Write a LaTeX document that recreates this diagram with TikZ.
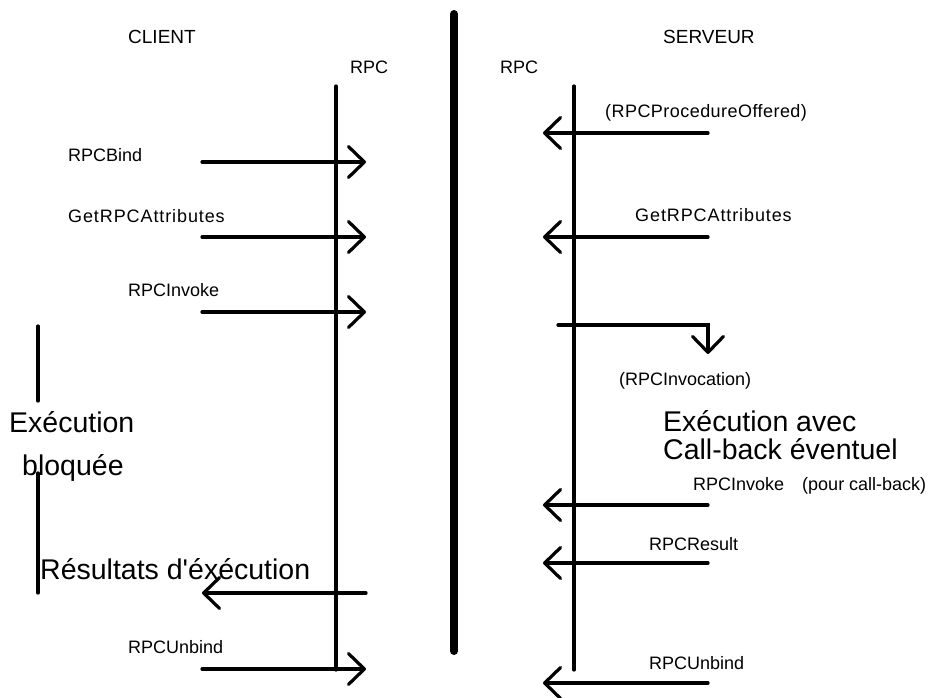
\documentclass[tikz,border=0pt]{standalone}
\usepackage{fontspec}
\setmainfont{Liberation Sans}
\newfontfamily\arialraw{Liberation Sans}
\usetikzlibrary{arrows.meta}
\begin{document}
\begin{tikzpicture}[x=1pt,y=-1pt,
  life/.style={line width=3.2pt, line cap=round},
  wall/.style={line width=8pt, line cap=round},
  msg/.style={line width=3.2pt, line cap=round, -{Straight Barb[length=16pt,width=31pt,round]}},
  lbl/.style={anchor=base west, inner sep=0pt, font=\fontsize{18}{20}\selectfont},
  head/.style={anchor=base west, inner sep=0pt, font=\fontsize{19}{21}\selectfont},
  big/.style={anchor=base west, inner sep=0pt, font=\arialraw\fontsize{28.5}{30}\selectfont}]
\useasboundingbox (0,0) rectangle (929,697);
\fill[white] (0,0) rectangle (929,697);

% headings
\node[head] (client) at (128,43) {CLIENT};
\node[head] (serveur) at (663,43) {SERVEUR};
\node[lbl] (rpcL) at (350,73) {RPC};
\node[lbl] (rpcR) at (500,73) {RPC};

% lifelines
\coordinate (lt) at (336,86);  \coordinate (lb) at (336,670);
\coordinate (rt) at (574,86);  \coordinate (rb) at (574,670);
\coordinate (wt) at (454,14);  \coordinate (wb) at (454,651);
\draw[life] (lt) -- (lb);
\draw[life] (rt) -- (rb);
\draw[wall] (wt) -- (wb);

% left bar (blocked execution)
\coordinate (b1t) at (38,326); \coordinate (b1b) at (38,401);
\coordinate (b2t) at (38,473); \coordinate (b2b) at (38,593);
\draw[life] (b1t) -- (b1b);
\draw[life] (b2t) -- (b2b);
\node[big] (exec) at (9,432) {Exécution};
\node[big] (bloq) at (22,475) {bloquée};

% client messages
\coordinate (c1s) at (202,162); \coordinate (c1e) at (366,162);
\coordinate (c2s) at (202,237); \coordinate (c2e) at (366,237);
\coordinate (c3s) at (202,312); \coordinate (c3e) at (366,312);
\coordinate (c4s) at (366,593); \coordinate (c4e) at (202,593);
\coordinate (c5s) at (202,669); \coordinate (c5e) at (366,669);
\draw[msg] (c1s) -- (c1e);
\draw[msg] (c2s) -- (c2e);
\draw[msg] (c3s) -- (c3e);
\draw[msg] (c4s) -- (c4e);
\draw[msg] (c5s) -- (c5e);
\node[lbl] (bind) at (68,161) {RPCBind};
\node[lbl] (getL) at (68,222) {\addfontfeature{LetterSpace=5}GetRPCAttributes};
\node[lbl] (invL) at (128,296) {RPCInvoke};
\node[big] (res) at (40,579) {Résultats d'éxécution};
\node[lbl] (unbL) at (128,653) {RPCUnbind};

% server messages
\coordinate (s1s) at (708,133); \coordinate (s1e) at (543,133);
\coordinate (s2s) at (708,237); \coordinate (s2e) at (543,237);
\coordinate (s3s) at (558,325); \coordinate (s3c) at (708,325); \coordinate (s3e) at (708,354);
\coordinate (s4s) at (708,505); \coordinate (s4e) at (543,505);
\coordinate (s5s) at (708,563); \coordinate (s5e) at (543,563);
\coordinate (s6s) at (708,683); \coordinate (s6e) at (543,683);
\draw[msg] (s1s) -- (s1e);
\draw[msg] (s2s) -- (s2e);
\draw[msg, line join=miter] (s3s) -- (s3c) -- (s3e);
\draw[msg] (s4s) -- (s4e);
\draw[msg] (s5s) -- (s5e);
\draw[msg] (s6s) -- (s6e);
\node[lbl] (offered) at (605,117) {\addfontfeature{LetterSpace=2.5}(RPCProcedureOffered)};
\node[lbl] (getR) at (635,221) {\addfontfeature{LetterSpace=5}GetRPCAttributes};
\node[lbl] (invoc) at (619,385) {(RPCInvocation)};
\node[big] (ex1) at (663,431) {Exécution avec};
\node[big] (ex2) at (663,459) {Call-back éventuel};
\node[lbl] (invR) at (693,490) {RPCInvoke\hspace{18pt}(pour call-back)};
\node[lbl] (result) at (649,550) {RPCResult};
\node[lbl] (unbR) at (649,669) {RPCUnbind};
\end{tikzpicture}
\end{document}
